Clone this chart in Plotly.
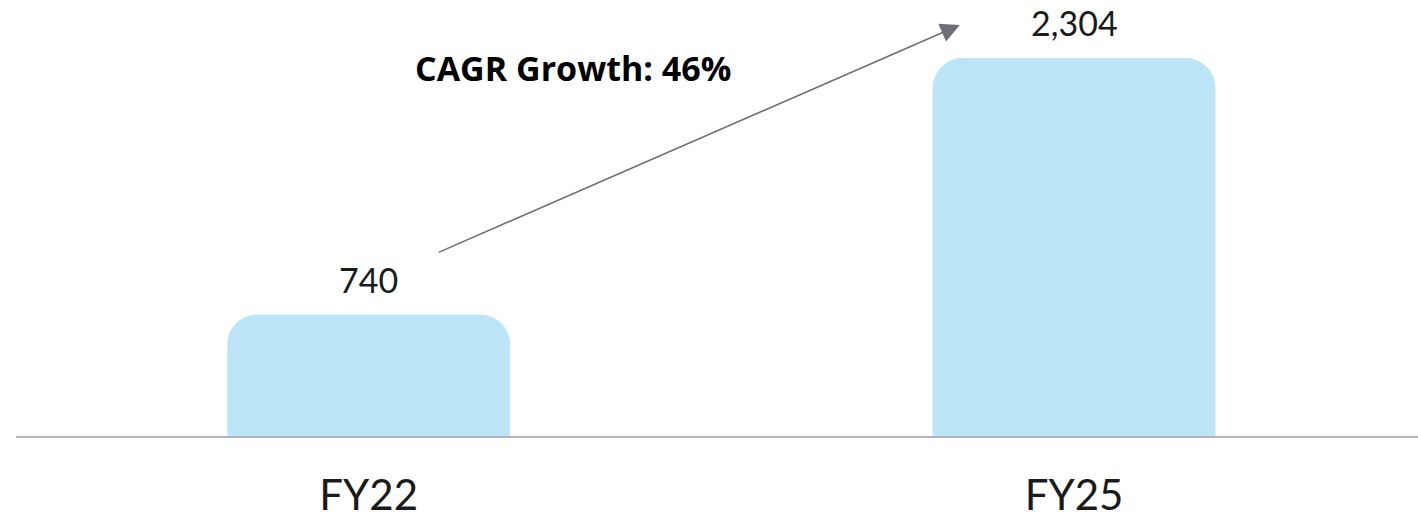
import plotly.graph_objects as go

categories = ["FY22", "FY25"]
values = [740, 2304]
value_labels = ["740", "2,304"]
cagr_text = "CAGR Growth: 46%"

BAR_COLOR = "#BDE5F8"
FONT = "Lato"

fig = go.Figure()
fig.add_trace(go.Bar(
    x=list(range(len(categories))),
    y=values,
    width=0.401,
    marker=dict(color=BAR_COLOR, cornerradius=30, line=dict(width=0)),
    hoverinfo="skip",
))

for i, (v, lab) in enumerate(zip(values, value_labels)):
    fig.add_annotation(
        x=i, y=v, text=lab, showarrow=False, yanchor="bottom", yshift=13,
        font=dict(family=FONT, size=34, color="#1a1a1a"),
    )

# CAGR arrow
fig.add_annotation(
    x=0.838, y=2505, ax=0.097, ay=1115, xref="x", yref="y", axref="x", ayref="y",
    showarrow=True, arrowhead=2, arrowsize=2.4, arrowwidth=1.6, arrowcolor="#6E6E7A",
    text="",
)
fig.add_annotation(
    x=0.29, y=2243, text="<b>" + cagr_text + "</b>", showarrow=False,
    font=dict(family="Open Sans", size=34, color="#000000"),
)

fig.update_layout(
    width=1418, height=521,
    margin=dict(l=16, r=0, t=0, b=85),
    plot_bgcolor="white", paper_bgcolor="white",
    showlegend=False,
    xaxis=dict(
        range=[-0.5, 1.4876], tickmode="array", tickvals=list(range(len(categories))),
        ticktext=categories, showgrid=False, zeroline=False,
        showline=True, linecolor="#B4B4BC", linewidth=2,
        tickfont=dict(family=FONT, size=42, color="#1a1a1a"), ticks="",
        ticklabelstandoff=22,
    ),
    yaxis=dict(range=[0, 2657], visible=False, showgrid=False, zeroline=False),
)

fig.write_html(
    "out.html",
    config={"displayModeBar": False},
    post_script="document.body.style.margin='0';document.body.style.padding='0';",
)
